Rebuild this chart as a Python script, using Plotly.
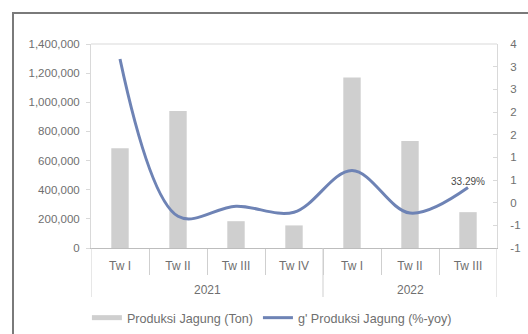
import plotly.graph_objects as go

# Quarterly maize production (tons) and year-on-year growth (fraction)
years = ["2021", "2021", "2021", "2021", "2022", "2022", "2022"]
quarters = ["Tw I", "Tw II", "Tw III", "Tw IV", "Tw I", "Tw II", "Tw III"]
produksi_ton = [684000, 941000, 184000, 155000, 1170000, 735000, 246000]
growth_yoy = [3.17, -0.30, -0.08, -0.21, 0.71, -0.23, 0.3329]

left_ticks = [0, 200000, 400000, 600000, 800000, 1000000, 1200000, 1400000]
right_ticks = [-1, -0.5, 0, 0.5, 1, 1.5, 2, 2.5, 3, 3.5]
right_tick_labels = ["-1", "-1", "0", "1", "1", "2", "2", "3", "3", "4"]

# Only the latest quarter carries a value label
growth_text = [""] * (len(growth_yoy) - 1) + [f"{growth_yoy[-1]:.2%}"]

FONT = "Liberation Sans, Arial, sans-serif"
TXT = "#6f6f6f"
BAR = "#cfcfcf"
LINE = "#6e83b5"
SEP = "#cfcfcf"

n = len(quarters)
pos = list(range(n))

# year groups: (label, first index, last index)
groups = []
for i, yr in enumerate(years):
    if groups and groups[-1][0] == yr:
        groups[-1][2] = i
    else:
        groups.append([yr, i, i])

fig = go.Figure()
fig.add_trace(go.Bar(
    x=pos, y=produksi_ton,
    name="Produksi Jagung (Ton)",
    marker=dict(color=BAR, line=dict(width=0)),
    showlegend=False,
    yaxis="y",
))
# legend entry for the bars, drawn as a thick short stroke
fig.add_trace(go.Scatter(
    x=[None], y=[None], mode="lines",
    name="Produksi Jagung (Ton)",
    line=dict(color=BAR, width=5),
))
fig.add_trace(go.Scatter(
    x=pos, y=growth_yoy,
    name="g' Produksi Jagung (%-yoy)",
    mode="lines+text",
    line=dict(color=LINE, width=3, shape="spline", smoothing=1.0),
    text=growth_text, textposition="top center",
    textfont=dict(size=10, color="#4a4a4a", family=FONT),
    cliponaxis=False,
    yaxis="y2",
))

# plot area spans 204 px vertically
PH = 204.0
shapes = [
    # top edge of the plotting area
    dict(type="line", xref="paper", yref="paper", x0=0, x1=1, y0=1, y1=1,
         line=dict(color="#d9d9d9", width=1)),
    # outer chart frame
    dict(type="rect", xref="paper", yref="paper",
         x0=(13 - 91) / 406, x1=1.2, y0=1 + 31 / PH, y1=-0.5,
         line=dict(color="#7a7a7a", width=2), fillcolor="rgba(0,0,0,0)"),
]
annotations = []
for label, a, b in groups:
    # long divider at the left edge of each year group
    shapes.append(dict(type="line", xref="x", yref="paper",
                       x0=a - 0.5, x1=a - 0.5, y0=0, y1=-49 / PH,
                       line=dict(color=SEP, width=1)))
    annotations.append(dict(x=(a + b) / 2, y=0, xref="x", yref="paper",
                            yshift=-42, text=label, showarrow=False,
                            yanchor="middle",
                            font=dict(size=12, color=TXT, family=FONT)))
last_end = groups[-1][2] + 0.5
shapes.append(dict(type="line", xref="x", yref="paper",
                   x0=last_end, x1=last_end, y0=0, y1=-49 / PH,
                   line=dict(color=SEP, width=1)))

fig.update_layout(
    width=528, height=334,
    margin=dict(l=91, r=31, t=44, b=86),
    paper_bgcolor="white", plot_bgcolor="white",
    font=dict(family=FONT, size=12, color=TXT),
    bargap=0.7,
    showlegend=True,
    legend=dict(
        orientation="h", xref="container", yref="container",
        x=0.515, y=0.048, xanchor="center", yanchor="middle",
        font=dict(size=12.6, color=TXT), itemwidth=30,
        traceorder="normal",
    ),
    xaxis=dict(
        range=[-0.5, n - 0.5], automargin=False,
        tickmode="array", tickvals=pos, ticktext=quarters,
        ticks="", ticklabelstandoff=7,
        minor=dict(tickmode="array", tickvals=[i - 0.5 for i in pos[1:]],
                   ticks="outside", ticklen=26, tickcolor=SEP, tickwidth=1,
                   showgrid=False),
        showline=True, linecolor="#bdbdbd", linewidth=1,
        tickfont=dict(size=12, color=TXT),
        showgrid=False, zeroline=False,
    ),
    yaxis=dict(
        range=[0, 1400000], tickvals=left_ticks, tickformat=",",
        automargin=False,
        showgrid=False, zeroline=False,
        showline=True, linecolor="#d9d9d9", linewidth=1,
        ticks="outside", ticklen=4, tickcolor="#d9d9d9",
        ticklabelstandoff=4,
        tickfont=dict(size=11.5, color=TXT),
    ),
    yaxis2=dict(
        overlaying="y", side="right", automargin=False,
        range=[-1, 3.5], tickvals=right_ticks, ticktext=right_tick_labels,
        showgrid=False, zeroline=False,
        showline=True, linecolor="#d9d9d9", linewidth=1,
        ticks="inside", ticklen=4, tickcolor="#d9d9d9",
        ticklabelstandoff=10,
        tickfont=dict(size=11.5, color=TXT),
    ),
    shapes=shapes,
    annotations=annotations,
)

fig.write_html("out.html")
